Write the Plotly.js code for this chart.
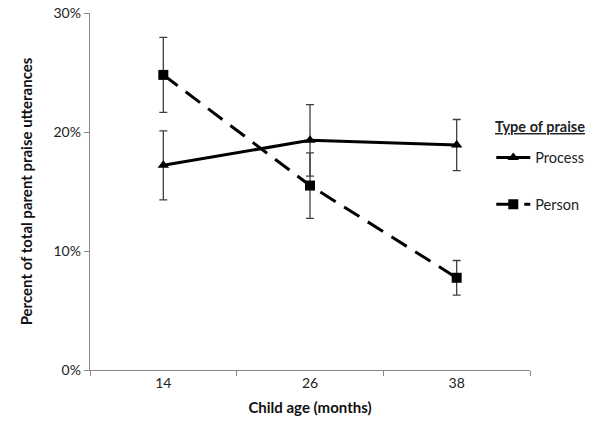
<!DOCTYPE html>
<html>
<head>
<meta charset="utf-8">
<script src="https://cdn.plot.ly/plotly-3.0.1.min.js"></script>
<style>html,body{margin:0;padding:0;background:#fff;}#chart{width:601px;height:431px;}</style>
</head>
<body>
<div id="chart"></div>
<script>
var ageLabels = ["14", "26", "38"];
var processValues = [17.2, 19.3, 18.9];
var processErrors = [2.9, 3.0, 2.15];
var personValues = [24.8, 15.5, 7.75];
var personErrors = [3.15, 2.75, 1.45];
var yTicks = [0, 10, 20, 30];
var yTickLabels = ["0%", "10%", "20%", "30%"];

var errStyle = {type: 'data', visible: true, color: '#404040', thickness: 1.3, width: 4};

var traces = [
  {
    x: ageLabels, y: processValues, name: 'Process', type: 'scatter', mode: 'lines+markers',
    legendgroup: 'a',
    line: {color: '#000', width: 3},
    marker: {symbol: 'triangle-up', size: 10, color: '#000'},
    error_y: Object.assign({array: processErrors}, errStyle)
  },
  {
    x: ageLabels, y: personValues, name: 'Person', type: 'scatter', mode: 'lines+markers',
    legendgroup: 'b',
    line: {color: '#000', width: 3, dash: '18px,10px'},
    marker: {symbol: 'square', size: 10, color: '#000'},
    error_y: Object.assign({array: personErrors}, errStyle)
  }
];

var fontFam = 'Lato, "Open Sans", sans-serif';
var layout = {
  width: 601, height: 431,
  margin: {l: 90, r: 67, t: 13, b: 61},
  paper_bgcolor: '#fff', plot_bgcolor: '#fff',
  font: {family: fontFam, size: 14, color: '#222'},
  showlegend: true,
  legend: {
    x: 0.912, xanchor: 'left', y: 0.640, yanchor: 'top',
    bgcolor: 'rgba(0,0,0,0)',
    traceorder: 'grouped', tracegroupgap: 25,
    itemwidth: 34,
    font: {family: fontFam, size: 14.5, color: '#222'}
  },
  annotations: [{
    text: '<b><u>Type of praise</u></b>', xref: 'paper', yref: 'paper',
    x: 0.917, xanchor: 'left', y: 0.683, yanchor: 'middle', showarrow: false,
    font: {family: fontFam, size: 14.5, color: '#222'}
  }],
  xaxis: {
    type: 'category', range: [-0.5, 2.5],
    tickson: 'boundaries', ticks: 'outside', ticklen: 5, tickcolor: '#888',
    showline: true, linecolor: '#888', linewidth: 1.3,
    showgrid: false, zeroline: false,
    tickfont: {family: fontFam, size: 14, color: '#222'},
    title: {text: '<b>Child age (months)</b>', font: {family: fontFam, size: 15, color: '#111'}, standoff: 12}
  },
  yaxis: {
    range: [0, 30], tickmode: 'array', tickvals: yTicks, ticktext: yTickLabels,
    ticks: 'outside', ticklen: 5, tickcolor: '#888',
    showline: true, linecolor: '#888', linewidth: 1.3,
    showgrid: false, zeroline: false,
    tickfont: {family: fontFam, size: 14, color: '#222'},
    title: {text: '<b>Percent of total parent praise utterances</b>', font: {family: fontFam, size: 15, color: '#111'}, standoff: 17}
  }
};

Plotly.newPlot('chart', traces, layout, {displayModeBar: false, staticPlot: true});
</script>
</body>
</html>
